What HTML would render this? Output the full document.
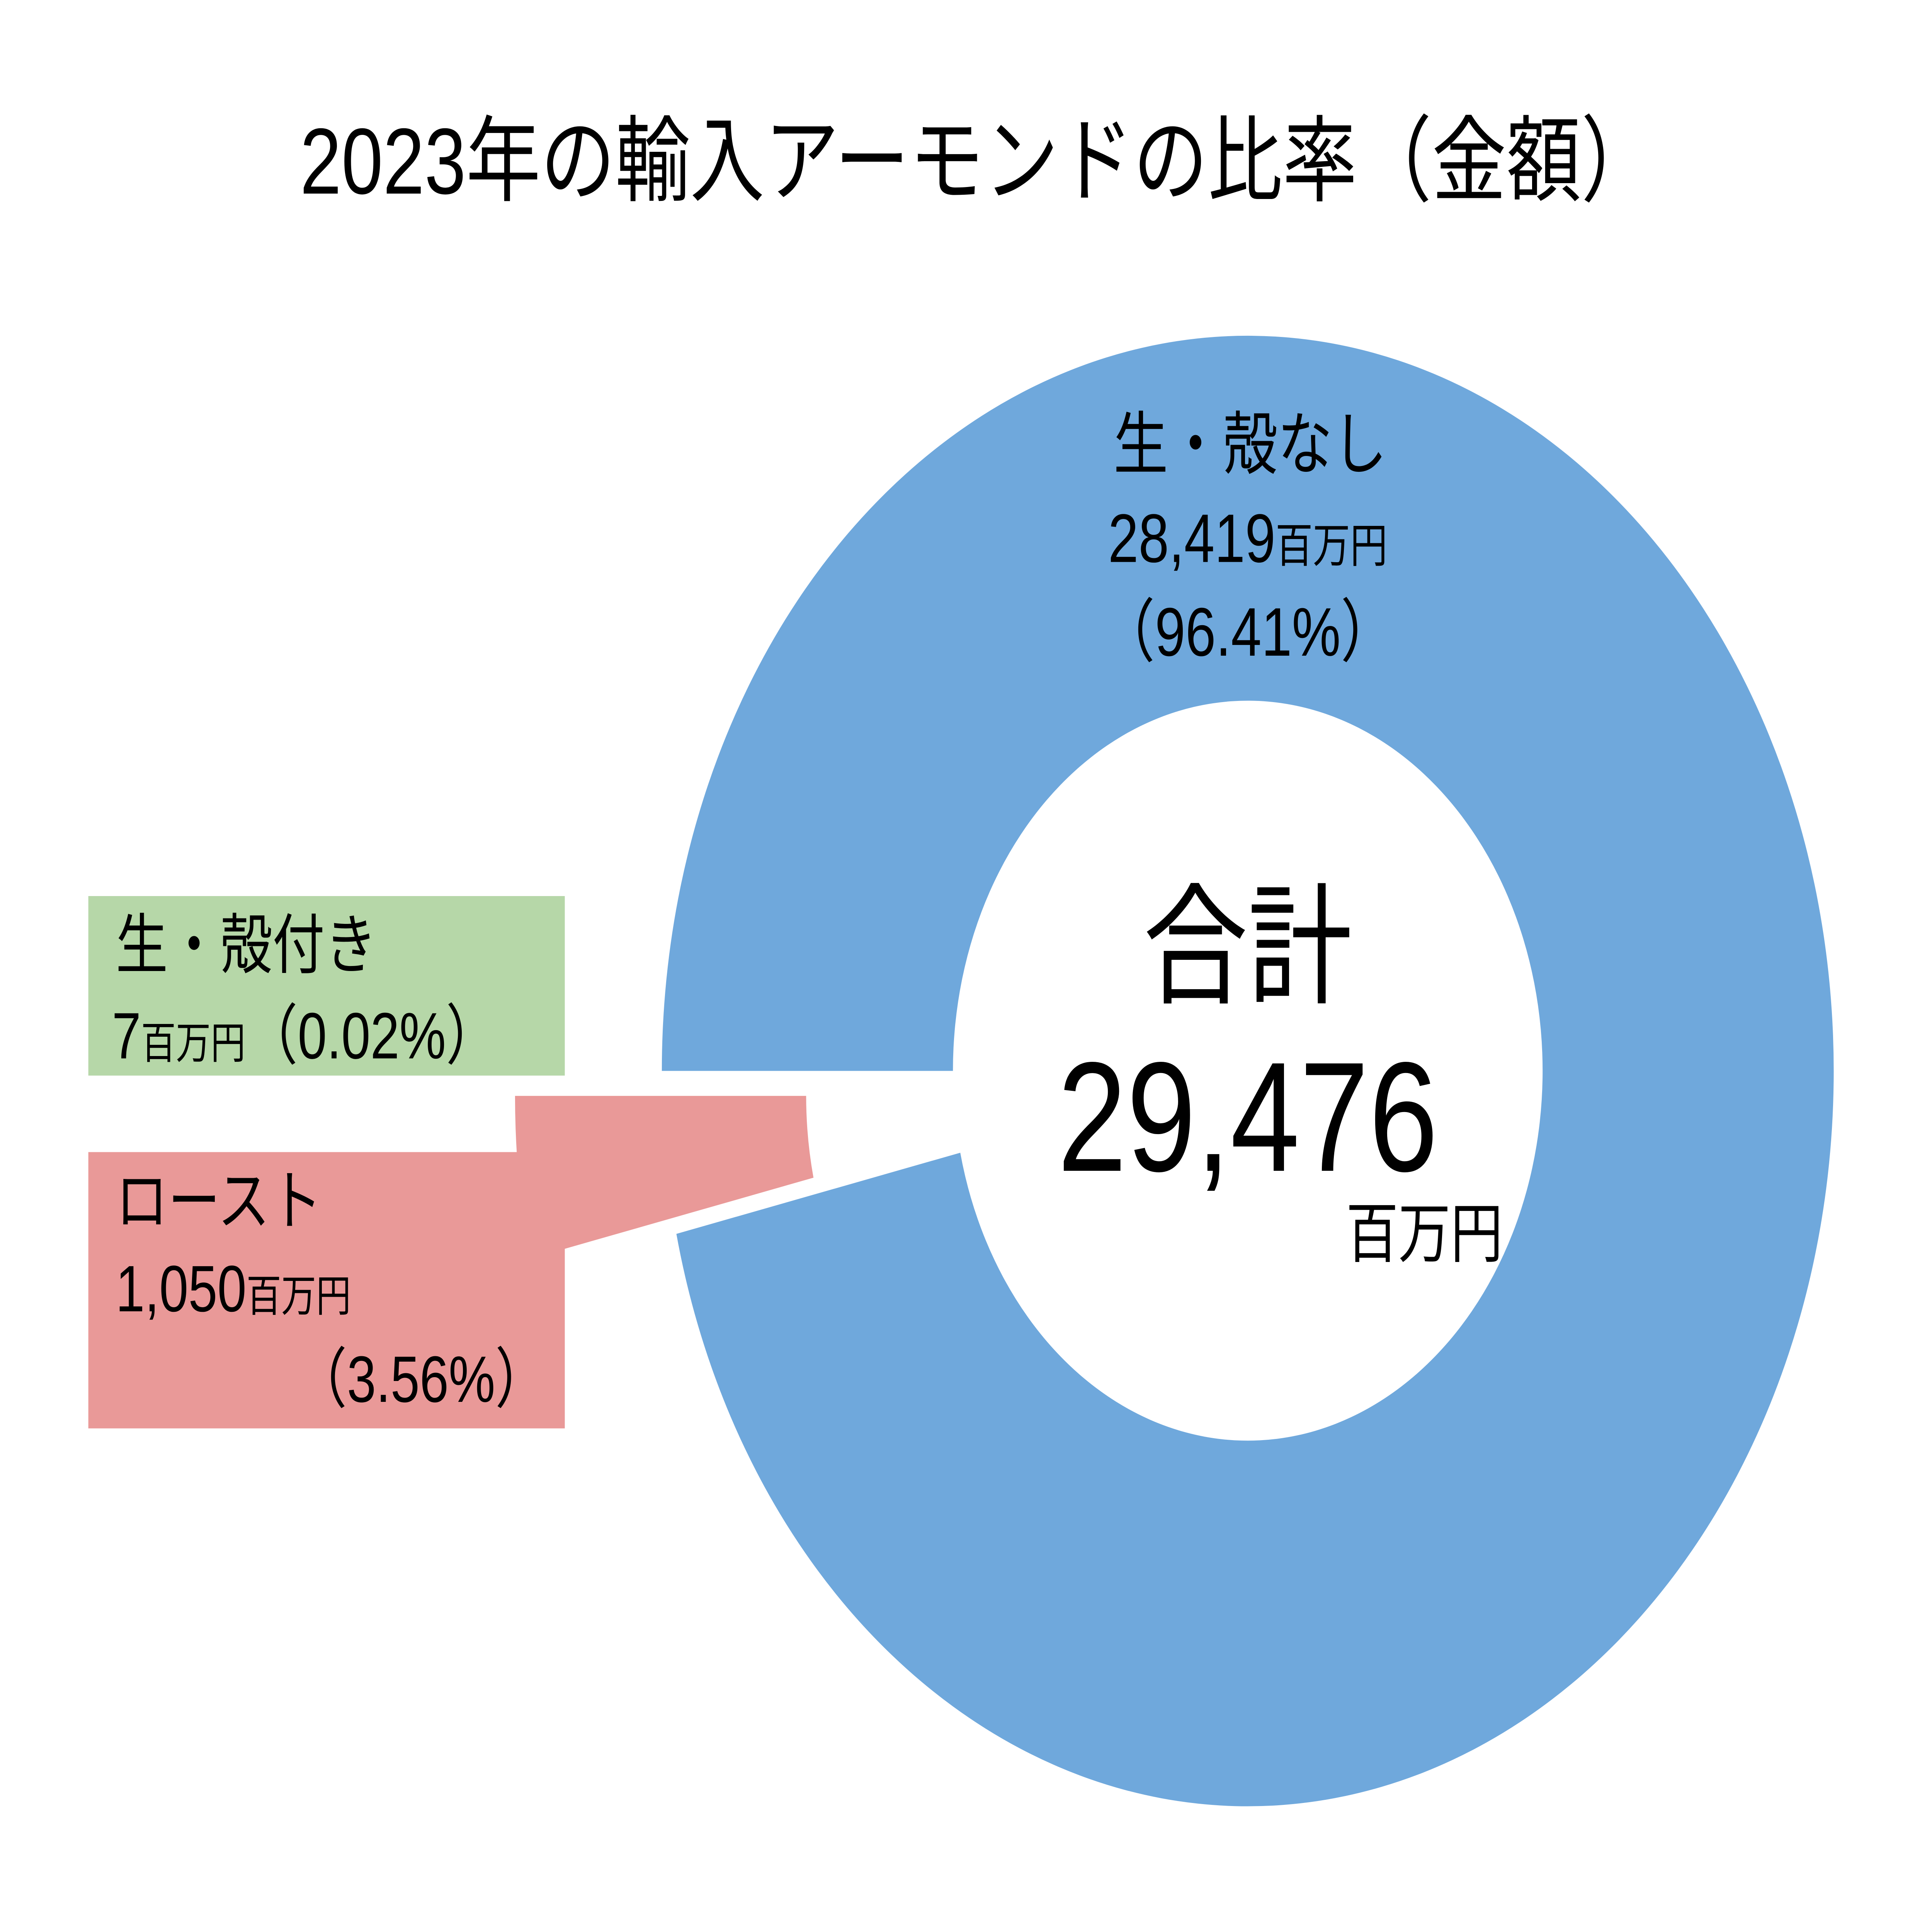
<!DOCTYPE html>
<html><head><meta charset="utf-8"><style>
html,body{margin:0;padding:0;background:#fff;width:100%;height:100%;overflow:hidden;}
svg{display:block;position:absolute;left:0;top:0;width:100vw;height:100vh;}
text{font-family:"Liberation Sans","Noto Sans CJK JP",sans-serif;fill:#000;}
</style></head><body>
<svg viewBox="0 0 1553 1237.6" preserveAspectRatio="none" xmlns="http://www.w3.org/2000/svg">
<rect width="1553" height="1238" fill="#fff"/>
<text x="786" y="124" font-size="60" text-anchor="middle">2023年の輸入アーモンドの比率（金額）</text>
<path d="M532,686 A471,471 0 1 1 543.7,790.4 L771.9,738.4 A237,237 0 1 0 766,686 Z" fill="#6FA8DC"/>
<path d="M414,702 L648,702 A237,237 0 0 0 653.9,754.4 L425.7,806.4 A471,471 0 0 1 414,702 Z" fill="#E99998"/>
<rect x="71" y="738" width="383" height="177" fill="#E99998"/>
<rect x="71" y="574" width="383" height="115" fill="#B6D7A8"/>
<text x="1005" y="300" font-size="44" text-anchor="middle">生・殻なし</text>
<text x="1003" y="360" font-size="44" text-anchor="middle">28,419<tspan font-size="30">百万円</tspan></text>
<text x="1003" y="420" font-size="44" text-anchor="middle">（96.41%）</text>
<text x="1003" y="636" font-size="84" text-anchor="middle">合計</text>
<text x="1003" y="750" font-size="100" text-anchor="middle">29,476</text>
<text x="1145" y="805" font-size="42" text-anchor="middle">百万円</text>
<text x="93" y="620" font-size="42">生・殻付き</text>
<text x="90" y="678" font-size="42">7<tspan font-size="28">百万円</tspan>（0.02%）</text>
<text x="93" y="784" font-size="42">ロースト</text>
<text x="93" y="840" font-size="42">1,050<tspan font-size="28">百万円</tspan></text>
<text x="440" y="898" font-size="42" text-anchor="end">（3.56%）</text>
</svg>
</body></html>
